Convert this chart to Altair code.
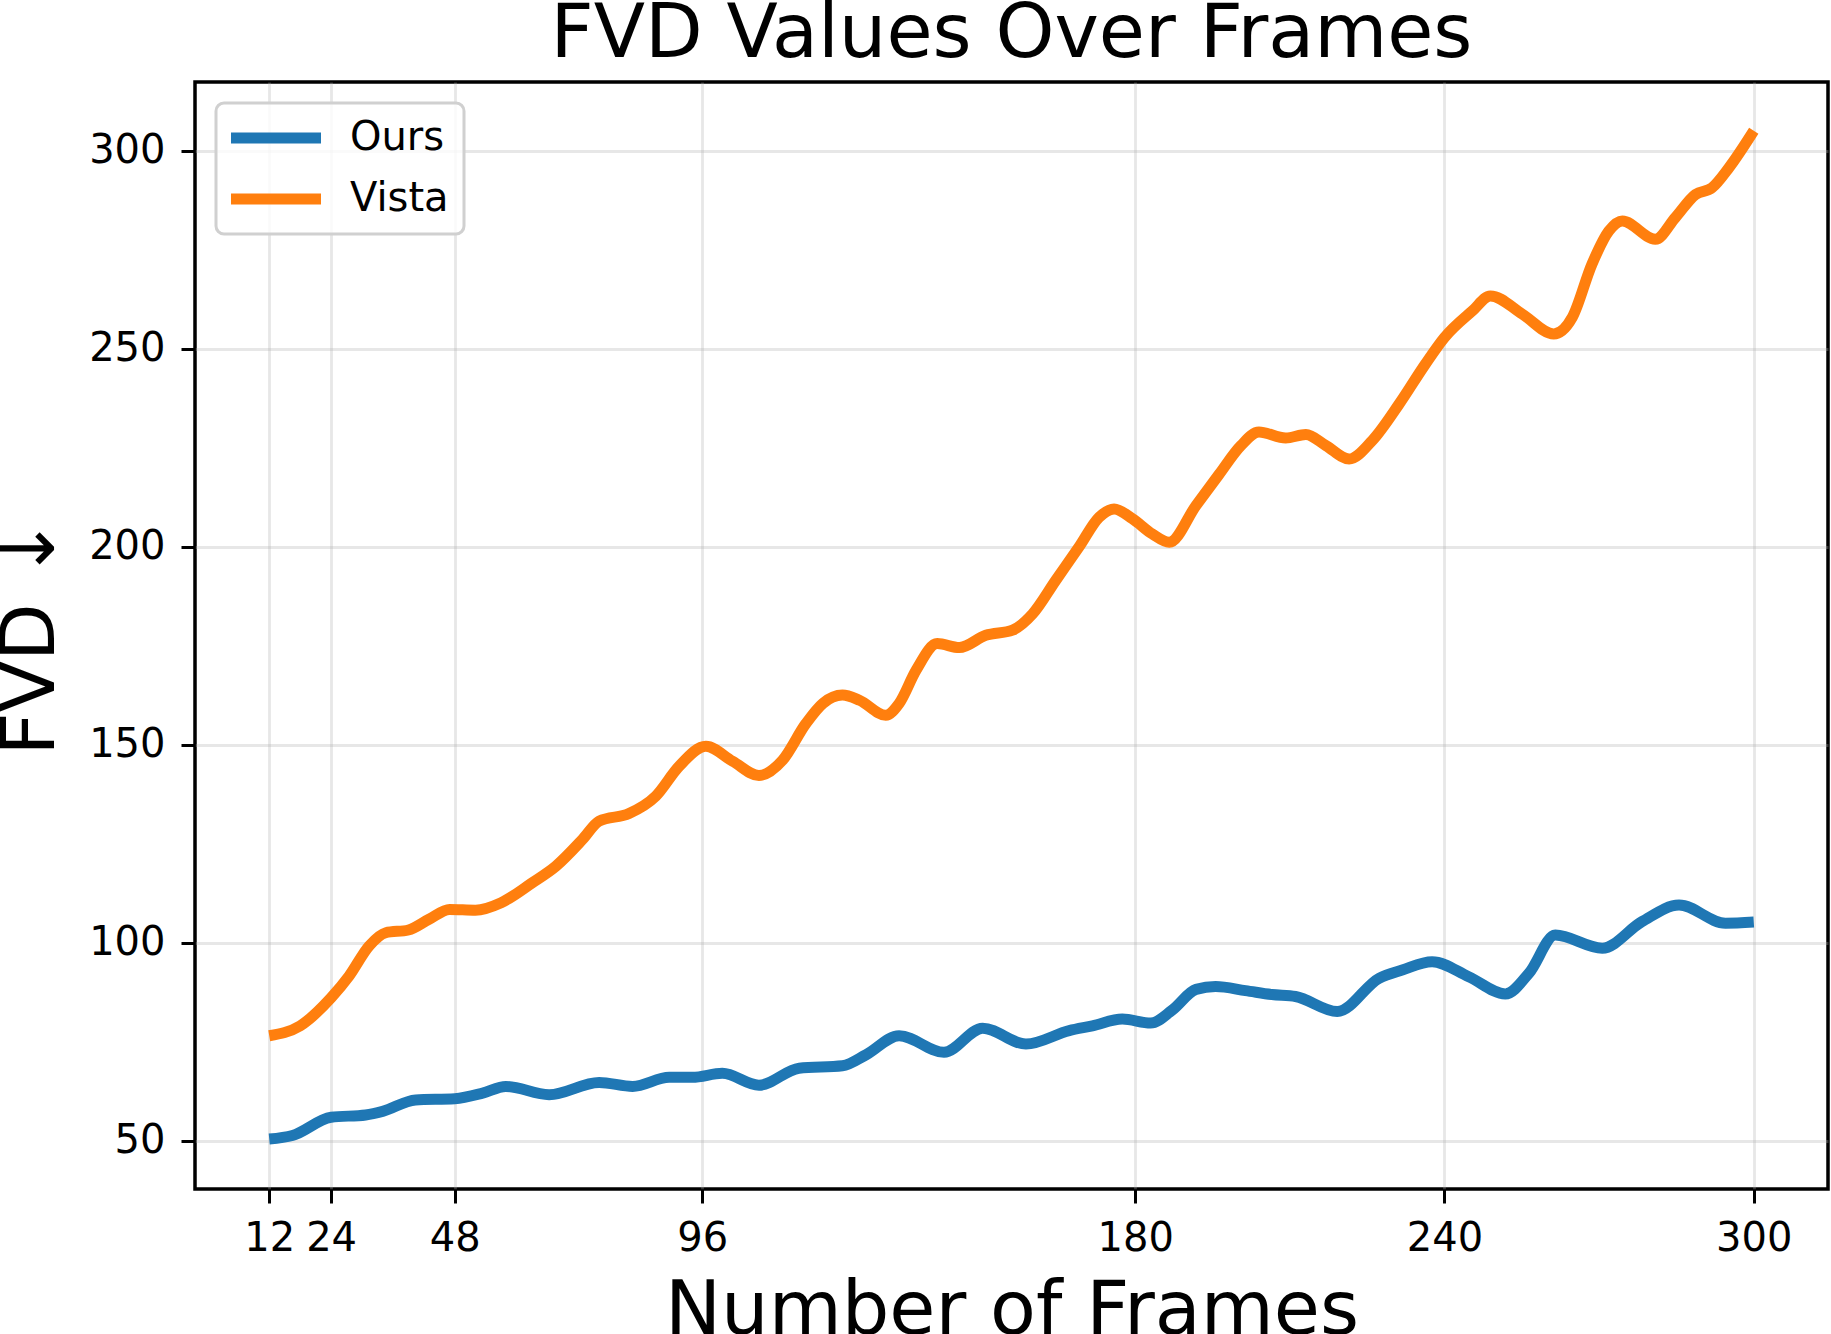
import altair as alt
import pandas as pd

# ---- data ----
series_names = ["Ours", "Vista"]
series_colors = ["#1f77b4", "#ff7f0e"]

ours_frames = [12, 16.5, 24, 30.7, 34, 40.4, 48, 53.4, 57.9, 66.3, 76, 82.5, 89.6, 94.1,
               99.9, 107, 114.8, 123.2, 127.8, 134.2, 142.9, 150.4, 158.8, 167.2, 171.7,
               177.5, 183, 187.2, 191.8, 195.6, 201.4, 206.5, 211.1, 219.2, 227.3, 231.8,
               237.6, 244.7, 251.8, 256.4, 261.5, 270.6, 278.3, 285.5, 294.5, 300]
ours_fvd = [50.4, 51.3, 55.9, 56.5, 57.4, 60.3, 60.6, 62.0, 63.7, 61.6, 64.7, 63.7, 66.0, 66.0,
            67.0, 64.0, 68.3, 68.9, 71.7, 76.5, 72.3, 78.4, 74.4, 77.8, 79.0,
            80.7, 79.7, 83.0, 88.2, 88.9, 87.9, 86.9, 86.4, 82.6, 91.0, 93.1,
            95.2, 91.4, 87.05, 92.3, 101.9, 98.6, 105.3, 109.5, 104.9, 105.2]

vista_frames = [12, 18, 24, 27.5, 31.4, 34.6, 39, 43, 47, 52, 57, 63, 67.6, 72.8, 76, 81.8,
                87, 91.5, 96.7, 101.9, 107, 111.6, 116.1, 119.4, 123.2, 126.5, 131.6, 134.2,
                137.5, 141.6, 145.9, 151, 156.2, 160.1, 164.6, 169.1, 173, 175.9, 179.5,
                183.3, 186.6, 191.8, 196.3, 200.5, 204, 209.2, 213.1, 217, 221.5, 226,
                231.2, 236.3, 240, 245.4, 248.9, 255.1, 261.2, 264.8, 268.6, 271.9, 274.5,
                280.9, 284.8, 288.7, 291.9, 295.2, 300]
vista_fvd = [76.5, 79.0, 86.1, 91.6, 99.2, 102.5, 103.2, 105.9, 108.4, 108.2, 110.1, 115.1,
             119.3, 126.1, 130.7, 132.6, 137.0, 144.5, 149.6, 145.8, 142.2, 146.1, 155.3,
             160.4, 162.5, 161.2, 157.4, 160.4, 168.8, 175.5, 174.5, 177.6, 178.9, 183.0,
             191.5, 199.9, 207.4, 209.5, 207.0, 203.2, 201.1, 210.4, 218.3, 225.5, 228.9,
             227.4, 228.3, 225.5, 222.1, 226.8, 236.0, 246.1, 252.8, 259.5, 263.3, 258.7,
             253.7, 257.9, 271.3, 279.7, 282.2, 277.6, 283.1, 288.9, 290.6, 295.7, 305.0]

x_ticks = [12, 24, 48, 96, 180, 240, 300]
y_ticks = [50, 100, 150, 200, 250, 300]

df = pd.concat([
    pd.DataFrame({"frames": ours_frames, "fvd": ours_fvd, "method": series_names[0]}),
    pd.DataFrame({"frames": vista_frames, "fvd": vista_fvd, "method": series_names[1]}),
], ignore_index=True)

FONT = "DejaVu Sans"
LW = 11

chart = alt.Chart(df).mark_line(
    strokeWidth=LW, interpolate="monotone", strokeCap="butt"
).encode(
    x=alt.X("frames:Q",
            scale=alt.Scale(domain=[-2.4, 314.4], nice=False, zero=False),
            axis=alt.Axis(values=x_ticks, title="Number of Frames", labelPadding=15,
                          titlePadding=16)),
    y=alt.Y("fvd:Q",
            scale=alt.Scale(domain=[37.8, 317.3], nice=False, zero=False),
            axis=alt.Axis(values=y_ticks, title="FVD ↓", labelPadding=16,
                          titleBaseline="alphabetic", titlePadding=35)),
    color=alt.Color("method:N",
                    scale=alt.Scale(domain=series_names, range=series_colors),
                    legend=alt.Legend(title=None, orient="none", legendX=21, legendY=21,
                                      symbolType="stroke", symbolSize=8649,
                                      symbolStrokeWidth=LW, symbolOffset=-8.5, labelOffset=23.5,
                                      labelFont=FONT, labelFontSize=40, labelColor="black",
                                      padding=15, clipHeight=40, rowPadding=21,
                                      strokeColor="#d0d0d0", fillColor="rgba(255,255,255,0.8)",
                                      cornerRadius=8)),
).properties(
    width=1633,
    height=1107,
    title=alt.TitleParams("FVD Values Over Frames", font=FONT, fontSize=75,
                          fontWeight="normal", color="black", anchor="middle",
                          offset=9),
    autosize=alt.AutoSizeParams(type="none"),
    padding={"left": 195, "top": 82, "right": 3, "bottom": 145},
).configure_view(
    stroke="black", strokeWidth=3.5
).configure_axis(
    domain=False,
    ticks=True, tickColor="black", tickWidth=3, tickSize=14,
    labelFont=FONT, labelFontSize=40, labelColor="black",
    titleFont=FONT, titleFontSize=75, titleFontWeight="normal", titleColor="black",
    grid=True, gridColor="#b0b0b0", gridOpacity=0.3, gridWidth=2.8,
).configure_legend(
    strokeWidth=3
)

chart.save("out.html", embed_options={"renderer": "svg", "actions": False})
